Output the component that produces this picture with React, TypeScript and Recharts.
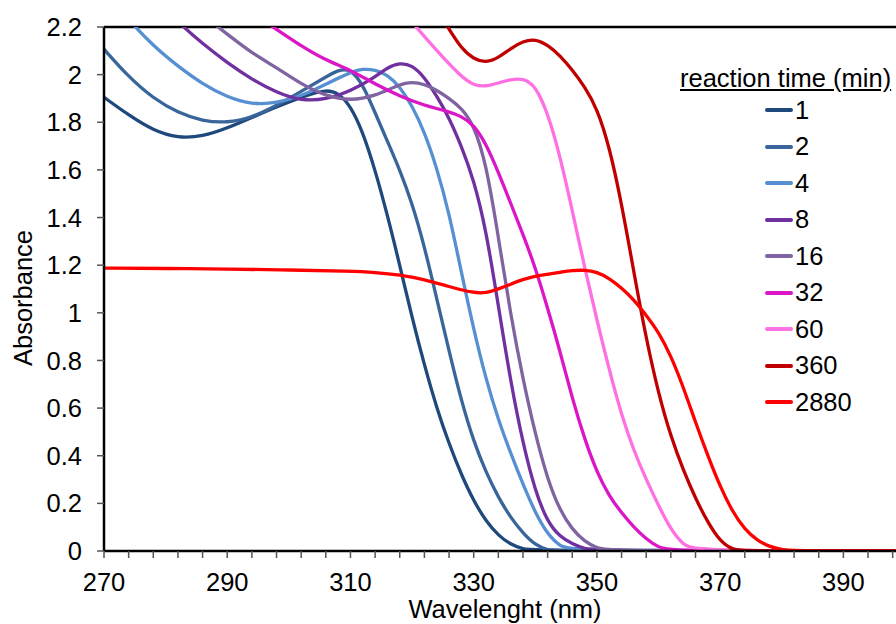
import React from "react"
import {
  LineChart,
  Line,
  XAxis,
  YAxis,
  Label,
  ReferenceLine
} from "recharts"

// reaction time labels (min)
const seriesNames = ["1", "2", "4", "8", "16", "32", "60", "360", "2880"]

// absorbance spectra, [wavelength nm, absorbance]
const t1: [number, number][] = [
  [270, 1.905], [274, 1.83], [278, 1.765], [282, 1.733], [286, 1.74], [290, 1.775],
  [294, 1.82], [298, 1.865], [302, 1.905], [304, 1.922], [306, 1.935], [308, 1.925],
  [310, 1.87], [312, 1.76], [314, 1.6], [316, 1.41], [318, 1.2], [320, 0.98],
  [322, 0.78], [324, 0.6], [326, 0.45], [328, 0.32], [330, 0.21], [332, 0.125],
  [334, 0.065], [336, 0.027], [338, 0.008], [340, 0], [400, 0]
]
const t2: [number, number][] = [
  [270, 2.107], [274, 1.99], [278, 1.9], [282, 1.84], [286, 1.805], [290, 1.797],
  [294, 1.82], [298, 1.87], [302, 1.93], [306, 1.99], [308, 2.02], [310, 2.025],
  [312, 1.96], [314, 1.84], [316, 1.72], [318, 1.6], [320, 1.46], [322, 1.28],
  [324, 1.06], [326, 0.84], [328, 0.63], [330, 0.46], [332, 0.33], [334, 0.225],
  [336, 0.14], [338, 0.075], [340, 0.025], [342, 0.003], [344, 0], [400, 0]
]
const t4: [number, number][] = [
  [270, 2.35], [274, 2.23], [278, 2.12], [282, 2.035], [286, 1.96], [290, 1.905],
  [294, 1.875], [298, 1.88], [302, 1.91], [306, 1.96], [310, 2.01], [312, 2.025],
  [314, 2.02], [316, 2.0], [318, 1.95], [320, 1.87], [322, 1.76], [324, 1.61],
  [326, 1.42], [328, 1.17], [330, 0.93], [332, 0.72], [334, 0.55], [336, 0.41],
  [338, 0.28], [340, 0.16], [342, 0.07], [344, 0.02], [346, 0], [400, 0]
]
const t8: [number, number][] = [
  [270, 2.55], [274, 2.44], [278, 2.33], [282, 2.22], [286, 2.13], [290, 2.05],
  [294, 1.98], [298, 1.925], [302, 1.89], [306, 1.895], [310, 1.93], [314, 1.99],
  [316, 2.03], [318, 2.05], [320, 2.04], [322, 1.99], [324, 1.91], [326, 1.82],
  [328, 1.7], [330, 1.56], [332, 1.35], [334, 1.03], [336, 0.71], [338, 0.45],
  [340, 0.25], [342, 0.12], [344, 0.06], [346, 0.03], [348, 0.01], [350, 0], [400, 0]
]
const t16: [number, number][] = [
  [270, 2.62], [274, 2.53], [278, 2.43], [282, 2.34], [286, 2.25], [290, 2.17],
  [294, 2.09], [298, 2.03], [302, 1.96], [306, 1.91], [310, 1.89], [314, 1.91],
  [318, 1.96], [320, 1.97], [322, 1.96], [324, 1.935], [326, 1.9], [328, 1.86],
  [330, 1.79], [332, 1.63], [334, 1.32], [336, 0.99], [338, 0.72], [340, 0.49],
  [342, 0.3], [344, 0.17], [346, 0.09], [348, 0.04], [350, 0.012], [352, 0], [400, 0]
]
const t32: [number, number][] = [
  [270, 2.66], [280, 2.5], [290, 2.33], [298, 2.19], [302, 2.12], [306, 2.06],
  [310, 2.02], [314, 1.96], [318, 1.91], [322, 1.87], [326, 1.845], [328, 1.825],
  [330, 1.79], [332, 1.71], [334, 1.59], [336, 1.46], [338, 1.33], [340, 1.19],
  [342, 1.02], [344, 0.84], [346, 0.64], [348, 0.47], [350, 0.33], [352, 0.23],
  [354, 0.16], [356, 0.1], [358, 0.05], [360, 0.015], [362, 0], [400, 0]
]
const t60: [number, number][] = [
  [316, 2.34], [320, 2.22], [324, 2.1], [328, 1.99], [330, 1.955], [332, 1.95],
  [334, 1.965], [336, 1.98], [338, 1.985], [340, 1.955], [342, 1.84], [344, 1.66],
  [346, 1.43], [348, 1.19], [350, 0.97], [352, 0.76], [354, 0.57], [356, 0.42],
  [358, 0.3], [360, 0.19], [362, 0.09], [364, 0.025], [366, 0], [400, 0]
]
const t360: [number, number][] = [
  [322, 2.36], [326, 2.19], [328, 2.11], [330, 2.065], [332, 2.05], [334, 2.07],
  [336, 2.11], [338, 2.14], [340, 2.15], [342, 2.125], [344, 2.08], [346, 2.02],
  [348, 1.95], [350, 1.86], [352, 1.7], [354, 1.46], [356, 1.17], [358, 0.89],
  [360, 0.66], [362, 0.48], [364, 0.34], [366, 0.22], [368, 0.12], [370, 0.04],
  [372, 0.005], [374, 0], [400, 0]
]
const t2880: [number, number][] = [
  [270, 1.188], [280, 1.186], [290, 1.184], [300, 1.18], [310, 1.175], [314, 1.17],
  [318, 1.16], [322, 1.14], [326, 1.11], [330, 1.083], [332, 1.083], [334, 1.1],
  [336, 1.12], [338, 1.14], [340, 1.155], [344, 1.17], [346, 1.178], [348, 1.18],
  [350, 1.172], [352, 1.145], [354, 1.105], [356, 1.055], [358, 0.99], [360, 0.92],
  [362, 0.82], [364, 0.69], [366, 0.54], [368, 0.4], [370, 0.27], [372, 0.165],
  [374, 0.09], [376, 0.045], [378, 0.018], [380, 0.005], [382, 0], [400, 0]
]

const xTicks = [
  270, 274, 278, 282, 286, 290, 294, 298, 302, 306, 310, 314, 318, 322, 326, 330,
  334, 338, 342, 346, 350, 354, 358, 362, 366, 370, 374, 378, 382, 386, 390, 394, 398
]
const xLabels = [270, 290, 310, 330, 350, 370, 390]
const yTicks = [0, 0.2, 0.4, 0.6, 0.8, 1, 1.2, 1.4, 1.6, 1.8, 2, 2.2]

const colors = [
  "#1F487C", "#38659A", "#5690D2", "#7030A0", "#8064A2",
  "#DA16C6", "#FF70E2", "#C00000", "#FF0000"
]

const spectra = [t1, t2, t4, t8, t16, t32, t60, t360, t2880]

const series = spectra.map((pts, i) => ({
  name: seriesNames[i],
  color: colors[i],
  data: pts.map(([nm, a]) => ({ nm, a }))
}))

const FONT = "'Liberation Sans', Arial, sans-serif"

export default function App() {
  return (
    <div
      style={{
        position: "absolute",
        left: 0,
        top: 0,
        width: 896,
        height: 624,
        overflow: "hidden",
        background: "#fff",
        fontFamily: FONT
      }}
    >
      <LineChart
        width={905}
        height={624}
        margin={{ top: 27, right: 0, bottom: 0, left: 0 }}
      >
        <XAxis
          dataKey="nm"
          type="number"
          domain={[270, 400]}
          allowDataOverflow
          ticks={xTicks}
          interval={0}
          tickFormatter={(v: number) => (xLabels.includes(v) ? String(v) : "")}
          height={73}
          tickSize={7}
          tickMargin={15}
          axisLine={{ stroke: "#000", strokeWidth: 2.5 }}
          tickLine={{ stroke: "#555", strokeWidth: 1.5 }}
          tick={{ fill: "#000", fontSize: 25.5, fontFamily: FONT }}
        >
          <Label
            content={() => (
              <text
                x={505}
                y={618}
                textAnchor="middle"
                fontSize={25.5}
                fontFamily={FONT}
                fill="#000"
              >
                Wavelenght (nm)
              </text>
            )}
          />
        </XAxis>
        <YAxis
          type="number"
          domain={[0, 2.2]}
          allowDataOverflow
          ticks={yTicks}
          interval={0}
          tickFormatter={(v: number) => String(Math.round(v * 10) / 10)}
          width={104}
          tickSize={7}
          tickMargin={15}
          axisLine={{ stroke: "#000", strokeWidth: 2.5 }}
          tickLine={{ stroke: "#555", strokeWidth: 1.5 }}
          tick={{ fill: "#000", fontSize: 25.5, fontFamily: FONT }}
        >
          <Label
            content={() => (
              <text
                x={23}
                y={298}
                transform="rotate(-90 23 298)"
                textAnchor="middle"
                dominantBaseline="central"
                fontSize={25.5}
                fontFamily={FONT}
                fill="#000"
              >
                Absorbance
              </text>
            )}
          />
        </YAxis>
        <ReferenceLine y={2.2} stroke="#000" strokeWidth={2.5} />
        {series.map((s) => (
          <Line
            key={s.name}
            data={s.data}
            dataKey="a"
            name={s.name}
            type="basis"
            stroke={s.color}
            strokeWidth={3.3}
            dot={false}
            activeDot={false}
            isAnimationActive={false}
          />
        ))}
      </LineChart>

      {/* legend */}
      <div
        style={{
          position: "absolute",
          left: 680,
          top: 63,
          fontSize: 25.5,
          lineHeight: "30px",
          textDecoration: "underline",
          whiteSpace: "nowrap",
          color: "#000"
        }}
      >
        reaction time (min)
      </div>
      <div style={{ position: "absolute", left: 765, top: 92 }}>
        {series.map((s) => (
          <div
            key={s.name}
            style={{
              display: "flex",
              alignItems: "center",
              height: 36.5,
              fontSize: 25.5,
              color: "#000"
            }}
          >
            <span
              style={{
                display: "inline-block",
                width: 28,
                height: 4,
                background: s.color,
                marginRight: 2,
                borderRadius: 2
              }}
            />
            <span>{s.name}</span>
          </div>
        ))}
      </div>
    </div>
  )
}
